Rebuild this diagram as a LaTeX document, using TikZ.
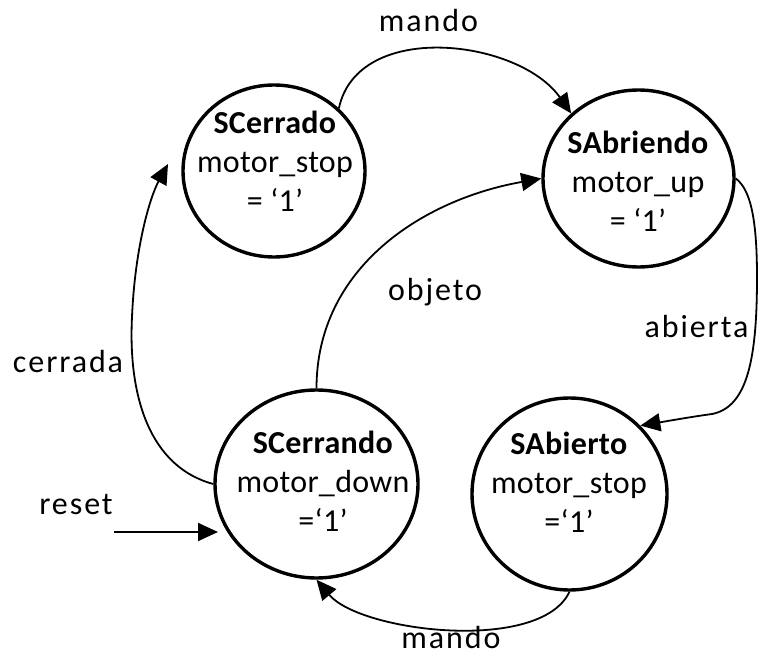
\documentclass[tikz,border=0pt]{standalone}
\usepackage{fontspec}
\setmainfont{Carlito}
\newfontfamily\statefont{Carlito}[LetterSpace=1]
\newfontfamily\lblfont{Carlito}[LetterSpace=6]
\usetikzlibrary{shapes.geometric,arrows.meta}
\begin{document}
\begin{tikzpicture}[x=1pt,y=1pt,
  state/.style={draw, ellipse, line width=3.4pt, inner sep=0pt},
  stext/.style={align=center, font=\statefont\fontsize{32}{39}\selectfont, inner sep=0pt},
  lbl/.style={font=\lblfont\fontsize{32}{38}\selectfont, inner sep=0pt, anchor=base},
  edge/.style={line width=1.8pt, -{Triangle[length=20pt,width=18pt]}}]
\useasboundingbox (0,0) rectangle (760,657);
% states
\node[state, minimum width=182pt, minimum height=172pt] (sc) at (274,486) {};
\node[state, minimum width=191pt, minimum height=177pt] (sab) at (638.5,478.5) {};
\node[state, minimum width=203pt, minimum height=188pt] (scd) at (316.5,173) {};
\node[state, minimum width=195pt, minimum height=192pt] (sabt) at (569.5,163) {};
% state texts
\node[stext] (sct) at (275,496) {\textbf{SCerrado}\\motor\_stop\\= ‘1’};
\node[stext] (sabtx) at (638,475.5) {\textbf{SAbriendo}\\motor\_up\\= ‘1’};
\node[stext] (scdt) at (323,176) {\textbf{SCerrando}\\motor\_down\\=‘1’};
\node[stext] (sabtt) at (569,174.5) {\textbf{SAbierto}\\motor\_stop\\=‘1’};
% labels
\node[lbl] (l1) at (428.5,625) {mando};
\node[lbl] (l2) at (435,357) {objeto};
\node[lbl] (l3) at (696.5,320) {abierta};
\node[lbl] (l4) at (68,285) {cerrada};
\node[lbl] (l5) at (76,143) {reset};
\node[lbl] (l6) at (451,9) {mando};
% free ends
\coordinate (rs0) at (114,125);
\coordinate (rs1) at (218,125);
\coordinate (cerr) at (168,493);
\coordinate (ab1) at (757,380);
\coordinate (ab2) at (712,243);
% transitions
\draw[edge] (sc.44) to[out=78,in=125] (sab.136);
\draw[edge] (sab.east) .. controls (750,468) and (757,440) .. (ab1)
  .. controls (757,300) and (748,250) .. (ab2)
  .. controls (690,240) and (662,235) .. (sabt.44);
\draw[edge] (scd.north) to[out=90,in=190] (sab.west);
\draw[edge] (scd.west) .. controls (150,190) and (128,260) .. (132,340)
  .. controls (135,410) and (150,460) .. (cerr);
\draw[edge] (rs0) -- (rs1);
\draw[edge] (sabt.south) to[out=-115,in=-50,looseness=0.69] (scd.south);
\end{tikzpicture}
\end{document}
